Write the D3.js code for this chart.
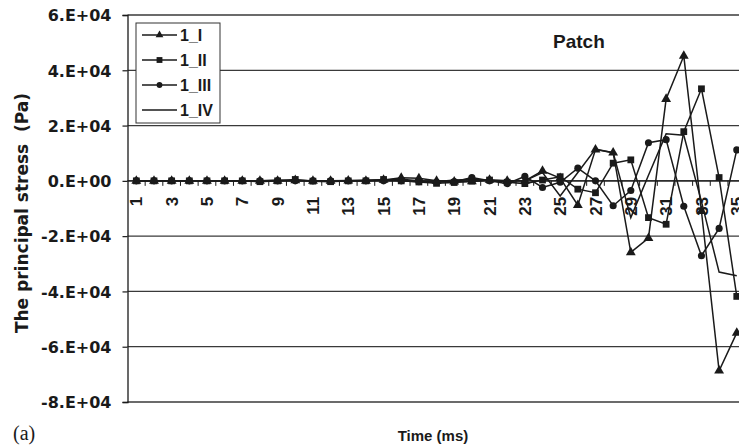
<!DOCTYPE html>
<html>
<head>
<meta charset="utf-8">
<script src="https://cdn.jsdelivr.net/npm/d3@7"></script>
<style>
  body { margin: 0; background: #fff; }
  svg { display: block; }
  .lbl { font-family: "Liberation Sans", Arial, sans-serif; font-weight: bold; fill: #1a1a1a; }
  .ylbl { font-family: "DejaVu Sans", sans-serif; font-weight: bold; fill: #1a1a1a; }
</style>
</head>
<body>
<div id="chart"></div>
<script>
// time steps (ms) and the odd ones that get a label
const times = [1, 2, 3, 4, 5, 6, 7, 8, 9, 10, 11, 12, 13, 14, 15, 16, 17, 18,
    19, 20, 21, 22, 23, 24, 25, 26, 27, 28, 29, 30, 31, 32, 33, 34, 35];
const timeLabels = [1, 3, 5, 7, 9, 11, 13, 15, 17, 19, 21, 23, 25, 27, 29, 31, 33, 35];

// principal stress (Pa)
const stress1I = [0, 0, 0, 0, 0, 0, 0, 0, 0, 200, 0, 0, 100, 0, 300, 1100, 900, 0,
    -300, -200, 300, 0, 0, 3600, 1000, -8800, 11300, 10200, -25900, -20700, 29600,
    45200, -11000, -68700, -55000];
const stress1II = [0, 0, 0, 0, 0, 0, 0, -300, 0, 500, -100, -300, 0, 0, 500, 0, -400,
    -900, -600, -100, 300, -500, -1000, 300, 1500, -3000, -4300, 6400, 7600, -13300,
    -15700, 17800, 33300, 1200, -41800];
const stress1III = [0, 0, 0, 0, 0, 0, 0, 0, 0, 0, 0, 0, 0, 0, 0, 0, -300, -500, -300,
    1200, 0, -1000, 1600, -2400, -500, 4600, 0, -9000, -3500, 13800, 14900, -9200,
    -27100, -17200, 11200];
const stress1IV = [0, 0, 0, 0, 0, 0, 0, 0, 300, 0, 0, 0, 0, 300, 300, 600, 0, -300,
    300, 500, 200, 0, 0, 3000, -5500, 3000, 11500, 10200, -13300, 2000, 17000, 16500,
    -7500, -33000, -34300];

const yTicks = [-80000, -60000, -40000, -20000, 0, 20000, 40000, 60000];
const yTickLabels = ["-8.E+04", "-6.E+04", "-4.E+04", "-2.E+04", "0.E+00", "2.E+04", "4.E+04", "6.E+04"];

const series = [
    { name: "1_I", values: stress1I, symbol: d3.symbolTriangle, size: 42, legendSize: 26 },
    { name: "1_II", values: stress1II, symbol: d3.symbolSquare, size: 46, legendSize: 34 },
    { name: "1_III", values: stress1III, symbol: d3.symbolCircle, size: 40, legendSize: 26 },
    { name: "1_IV", values: stress1IV, symbol: null }
];

const width = 739, height = 446;
const plot = { left: 127.5, top: 15, right: 745.6, bottom: 402 };
const ink = "#1a1a1a";

const svg = d3.select("#chart").append("svg")
    .attr("width", width)
    .attr("height", height);

svg.append("rect").attr("width", width).attr("height", height).attr("fill", "#fff");

const x = d3.scaleBand().domain(times).range([plot.left, plot.right]).padding(0);
const y = d3.scaleLinear().domain([-80000, 60000]).range([plot.bottom, plot.top]);
const cx = t => x(t) + x.bandwidth() / 2;

// horizontal gridlines
svg.append("g")
    .selectAll("line")
    .data(yTicks)
    .join("line")
        .attr("x1", plot.left).attr("x2", plot.right)
        .attr("y1", d => y(d)).attr("y2", d => y(d))
        .attr("stroke", "#3a3a3a")
        .attr("stroke-width", 1.3);

// y axis
const yAxis = svg.append("g")
    .attr("transform", `translate(${plot.left},0)`)
    .call(d3.axisLeft(y)
        .tickValues(yTicks)
        .tickSize(5)
        .tickPadding(11)
        .tickFormat((d, i) => yTickLabels[i]));
yAxis.select(".domain").attr("stroke", ink).attr("stroke-width", 1.3);
yAxis.selectAll(".tick line").attr("stroke", ink).attr("stroke-width", 1.2);
yAxis.selectAll(".tick text")
    .attr("class", "ylbl")
    .style("font-size", "16px")
    .attr("dy", "0.36em");

// x axis along zero
const xAxis = svg.append("g").attr("transform", `translate(0,${y(0)})`);
xAxis.append("line")
    .attr("x1", plot.left).attr("x2", plot.right)
    .attr("stroke", ink).attr("stroke-width", 1.3);
xAxis.selectAll(".xtick")
    .data(times)
    .join("line")
        .attr("class", "xtick")
        .attr("x1", d => x(d) + x.bandwidth()).attr("x2", d => x(d) + x.bandwidth())
        .attr("y1", 0).attr("y2", 5)
        .attr("stroke", ink).attr("stroke-width", 1);
xAxis.selectAll(".xlabel")
    .data(timeLabels)
    .join("text")
        .attr("class", "lbl xlabel")
        .attr("transform", d => `translate(${cx(d)},16) rotate(-90)`)
        .attr("text-anchor", "end")
        .attr("dy", "0.36em")
        .style("font-size", "17px")
        .text(d => d);

// series
const line = d3.line().x((d, i) => cx(times[i])).y(d => y(d));

series.forEach(s => {
    svg.append("path")
        .datum(s.values)
        .attr("d", line)
        .attr("fill", "none")
        .attr("stroke", ink)
        .attr("stroke-width", 1.5)
        .attr("stroke-linejoin", "miter");

    if (s.symbol) {
        svg.append("g")
            .selectAll("path")
            .data(s.values)
            .join("path")
                .attr("transform", (d, i) => `translate(${cx(times[i])},${y(d)})`)
                .attr("d", d3.symbol().type(s.symbol).size(s.size))
                .attr("fill", ink);
    }
});

// legend
const legend = svg.append("g").attr("transform", "translate(136,23)");
legend.append("rect")
    .attr("width", 84).attr("height", 100)
    .attr("fill", "#fff")
    .attr("stroke", "#333").attr("stroke-width", 1);

const entries = legend.selectAll(".entry")
    .data(series)
    .join("g")
        .attr("class", "entry")
        .attr("transform", (d, i) => `translate(0,${12 + i * 25})`);
entries.append("line")
    .attr("x1", 6).attr("x2", 41)
    .attr("stroke", ink).attr("stroke-width", 1.5);
entries.filter(d => d.symbol)
    .append("path")
    .attr("transform", "translate(23.5,0)")
    .attr("d", d => d3.symbol().type(d.symbol).size(d.legendSize)())
    .attr("fill", ink);
entries.append("text")
    .attr("class", "lbl")
    .attr("x", 44)
    .attr("dy", "0.36em")
    .style("font-size", "16px")
    .text(d => d.name);

// titles
svg.append("text")
    .attr("class", "lbl")
    .attr("x", 553).attr("y", 48)
    .style("font-size", "19px")
    .text("Patch");

svg.append("text")
    .attr("class", "ylbl")
    .attr("transform", "translate(28,213) rotate(-90)")
    .attr("text-anchor", "middle")
    .style("font-size", "17px")
    .style("white-space", "pre")
    .text("The principal stress  (Pa)");

svg.append("text")
    .attr("class", "lbl")
    .attr("x", 433).attr("y", 441)
    .attr("text-anchor", "middle")
    .style("font-size", "15px")
    .text("Time (ms)");

svg.append("text")
    .attr("x", 13).attr("y", 440)
    .style("font-family", "'Liberation Serif', 'Times New Roman', serif")
    .style("font-size", "20px")
    .attr("fill", ink)
    .text("(a)");
</script>
</body>
</html>
